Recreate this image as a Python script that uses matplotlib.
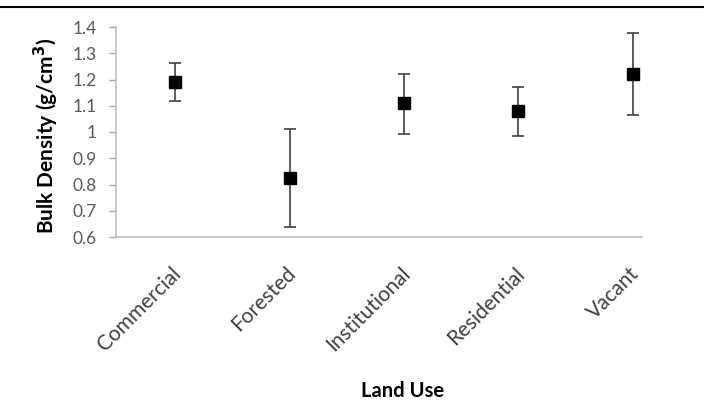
import matplotlib.pyplot as plt
from matplotlib.lines import Line2D
from matplotlib.transforms import ScaledTranslation

# Land use categories and bulk density values (g/cm3)
land_use = ['Commercial', 'Forested', 'Institutional', 'Residential', 'Vacant']
density = [1.19, 0.825, 1.11, 1.08, 1.222]
err_low = [0.071, 0.188, 0.117, 0.095, 0.158]
err_high = [0.072, 0.185, 0.112, 0.090, 0.156]

plt.rcParams['font.family'] = ['Lato', 'DejaVu Sans']

fig = plt.figure(figsize=(7.04, 4.0), dpi=100)
ax = fig.add_axes([0.165, 0.4075, 0.747, 0.525])

x = list(range(len(land_use)))
ax.errorbar(x, density, yerr=[err_low, err_high], fmt='s', color='black',
            markersize=9, ecolor='#404040', elinewidth=1.2, capsize=4.5,
            capthick=1.2)

ax.set_xlim(-0.515, 4.08)
ax.set_ylim(0.6, 1.4)
ax.set_yticks([0.6, 0.7, 0.8, 0.9, 1.0, 1.1, 1.2, 1.3, 1.4])
ax.set_yticklabels(['0.6', '0.7', '0.8', '0.9', '1', '1.1', '1.2', '1.3', '1.4'])
ax.set_xticks(x)
ax.set_xticklabels(land_use, rotation=45, ha='right', va='top',
                   rotation_mode='anchor')

ax.tick_params(axis='y', colors='#a6a6a6', labelcolor='#595959', labelsize=12.5,
               length=5, width=1, pad=9)
ax.tick_params(axis='x', length=0, labelcolor='#404040', labelsize=15, pad=19)

# nudge the rotated labels a little, like the original
shift = ScaledTranslation(-4 / 100, 0, fig.dpi_scale_trans)
for lab in ax.get_xticklabels():
    lab.set_transform(lab.get_transform() + shift)

for s in ['top', 'right']:
    ax.spines[s].set_visible(False)
for s in ['left', 'bottom']:
    ax.spines[s].set_color('#bfbfbf')
    ax.spines[s].set_linewidth(1.2)

fig.text(46.5 / 704, 1 - 136 / 400, 'Bulk Density (g/cm$^\\mathbf{3}$)', rotation=90,
         ha='center', va='center', fontsize=15, fontweight='bold')
fig.text(403 / 704, 1 - 397 / 400, 'Land Use', ha='center', va='baseline',
         fontsize=14.5, fontweight='bold')

# horizontal rule across the top of the image
fig.add_artist(Line2D([0, 1], [0.9825, 0.9825], color='black', linewidth=1.5,
                      transform=fig.transFigure))

fig.savefig('out.png', dpi=100)
